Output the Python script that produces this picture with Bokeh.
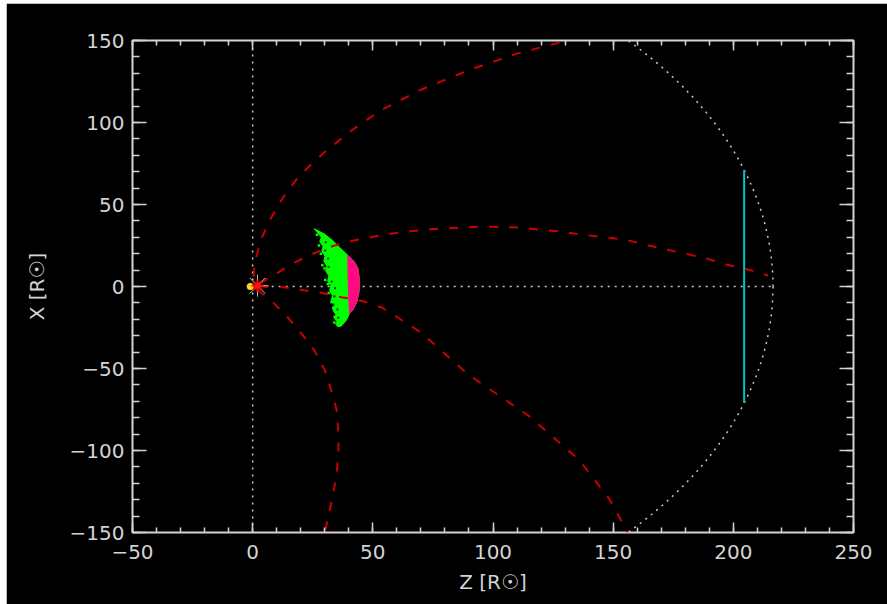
from bokeh.plotting import figure
from bokeh.models import LinearAxis, Range1d, SingleIntervalTicker, Spacer, CustomJSTickFormatter
from bokeh.layouts import row, column
from bokeh.embed import file_html
from bokeh.resources import INLINE

# ---- data (Z, X in solar radii) ----
# field-line style trajectories (red dashed)
curve_a_z = [0.3, 1.1, 3.6, 7.7, 13, 19.5, 30, 41, 52.8, 70, 90, 110, 131]
curve_a_x = [6, 16, 29, 42, 55, 67.7, 82, 95, 107, 120, 132, 142, 150]

curve_b_z = [3, 10, 17.4, 25, 33, 42, 50.7, 61, 75, 94, 110, 128, 137, 146, 155, 163, 172, 180, 189, 197, 206, 214.5]
curve_b_x = [2, 8, 14.6, 20, 24.5, 28, 30.5, 33, 35, 36.5, 36, 33.5, 31.7, 30, 28.6, 25.6, 22.6, 20, 17, 13.4, 10.4, 6.7]

curve_c_z = [3, 11, 20, 29, 37, 46, 54, 70, 90, 115, 136, 148.6, 156]
curve_c_x = [0, 0, -2, -4, -6.5, -9, -13, -28, -54, -79, -106, -130, -150]

curve_d_z = [2, 7.7, 15, 21, 25.7, 30, 32.6, 35, 35.7, 35.7, 35, 34, 32, 30]
curve_d_x = [-2, -8.5, -19.5, -30, -39, -51, -63, -75.6, -90, -100, -113, -122, -137, -150]

# 1 AU reference circle and observer plane
orbit_radius = 216.5
obs_z = 204.5
obs_x = [-71, 71]

# CME front: green shell (ragged trailing edge) and pink leading edge
green_z = [25.6, 27.2, 28.6, 27.9, 29.3, 28.8, 30.1, 29.6, 30.9, 30.4, 31.7, 31.2, 32.5, 32.0,
           33.2, 32.7, 33.9, 33.4, 34.6, 34.1, 35.1, 34.6, 35.3,
           36.8, 38.9, 40.3, 41.5, 43.3, 44.2, 44.5, 43.8, 42.4, 39.6, 36.1, 33.3, 29.9]
green_x = [35.2, 32.5, 30.0, 27.5, 24.5, 21.5, 18.5, 15.5, 12.5, 9.5, 6.5, 3.5, 0.5, -2.5,
           -5.5, -8.5, -11.5, -14.5, -17.0, -19.5, -21.5, -23.0, -24.4,
           -24.2, -20.7, -16.5, -14.6, -9.6, -3.5, 2.6, 11, 14.8, 19, 24, 28, 32]
pink_z = [39.6, 42.4, 43.8, 44.5, 44.2, 43.3, 41.5, 40.3, 40.0, 39.7]
pink_x = [19, 14.8, 11, 2.6, -3.5, -9.6, -14.6, -16.5, -8, 5]
speck_green_z = [26.8, 27.6, 28.4, 29.0, 29.9, 30.2, 31.3, 31.6, 32.8, 33.5, 34.1, 34.0]
speck_green_x = [31.5, 25.0, 20.0, 13.0, 11.0, 4.0, 1.5, -4.0, -9.5, -13.0, -18.5, -22.0]
speck_dark_z = [30.2, 31.6, 32.9, 34.0, 35.2, 31.4, 34.3, 35.6, 30.4, 33.6]
speck_dark_x = [22, 12, 3, -6, -14, 17, -1, -19, 27, -11]

FG = "#d4d4d4"
FONT = "DejaVu Sans"

p = figure(width=881, height=601, x_range=Range1d(-50, 250), y_range=Range1d(-150, 150),
           output_backend="svg", toolbar_location=None,
           background_fill_color="black", border_fill_color="black",
           min_border_left=126, min_border_right=34, min_border_top=37, min_border_bottom=72)
p.grid.visible = False
p.outline_line_color = FG
p.outline_line_width = 2

def style_axis(ax, tick_in, minor_in, interval):
    ax.ticker = SingleIntervalTicker(interval=interval, num_minor_ticks=5)
    ax.axis_line_color = None
    ax.major_tick_in = tick_in
    ax.major_tick_out = 0
    ax.minor_tick_in = minor_in
    ax.minor_tick_out = 0
    ax.major_tick_line_color = FG
    ax.minor_tick_line_color = FG
    ax.major_tick_line_width = 1.5
    ax.minor_tick_line_width = 1.5
    ax.major_label_text_color = FG
    ax.major_label_text_font = FONT
    ax.major_label_text_font_size = "20px"
    ax.axis_label_text_color = FG
    ax.axis_label_text_font = FONT
    ax.axis_label_text_font_size = "20px"
    ax.axis_label_text_font_style = "normal"

style_axis(p.xaxis[0], 10, 5, 50)
style_axis(p.yaxis[0], 14, 7, 50)
p.xaxis[0].axis_label = "Z [R\u2609]"
p.yaxis[0].axis_label = "X [R\u2609]"
p.xaxis[0].major_label_standoff = 12
p.xaxis[0].axis_label_standoff = 8
p.yaxis[0].major_label_standoff = 8
p.yaxis[0].axis_label_standoff = 18

# tick marks on the top and right edges, without labels
top = LinearAxis()
right = LinearAxis()
style_axis(top, 10, 5, 50)
style_axis(right, 14, 7, 50)
for ax in (top, right):
    ax.formatter = CustomJSTickFormatter(code="return ''")
    ax.major_label_standoff = 0
p.add_layout(top, "above")
p.add_layout(right, "right")

DOT = "#c8c8c8"
# reference lines
p.line(x=[0, 0], y=[-150, 150], line_color=DOT, line_dash="2 5", line_width=1.5)
p.line(x=[5, orbit_radius], y=[0, 0], line_color=DOT, line_dash="2 5", line_width=1.5)
p.ellipse(x=0, y=0, width=2 * orbit_radius, height=2 * orbit_radius,
          fill_color=None, line_color=DOT, line_dash="2 5", line_width=1.5)

# CME front
p.patch(green_z, green_x, fill_color="#00ff00", line_color="#00ff00", line_width=1)
p.scatter(speck_green_z, speck_green_x, marker="square", size=2.5, fill_color="#00ff00", line_color=None)
p.scatter(speck_dark_z, speck_dark_x, marker="square", size=2, fill_color="#0a400a", line_color=None)
p.patch(pink_z, pink_x, fill_color="#ff0a84", line_color="#ff0a84", line_width=1)

# observer plane
p.line(x=[obs_z, obs_z], y=obs_x, line_color="#00c4c8", line_width=2)

# trajectories
RED = "#c80000"
for cz, cx in ((curve_a_z, curve_a_x), (curve_b_z, curve_b_x),
               (curve_c_z, curve_c_x), (curve_d_z, curve_d_x)):
    p.line(cz, cx, line_color=RED, line_dash="9 11", line_width=2)

# Sun
p.scatter([-1], [0], marker="circle", size=7, fill_color="#ffe000", line_color=None)
p.scatter([2], [0.5], marker="asterisk", size=22, line_color="#b8b8b8", line_width=1)
p.scatter([2], [0.5], marker="asterisk", size=12, line_color="#ff1010", line_width=2)

layout = column(Spacer(height=3), row(Spacer(width=6), p))
open("out.html", "w").write(file_html(layout, INLINE))
